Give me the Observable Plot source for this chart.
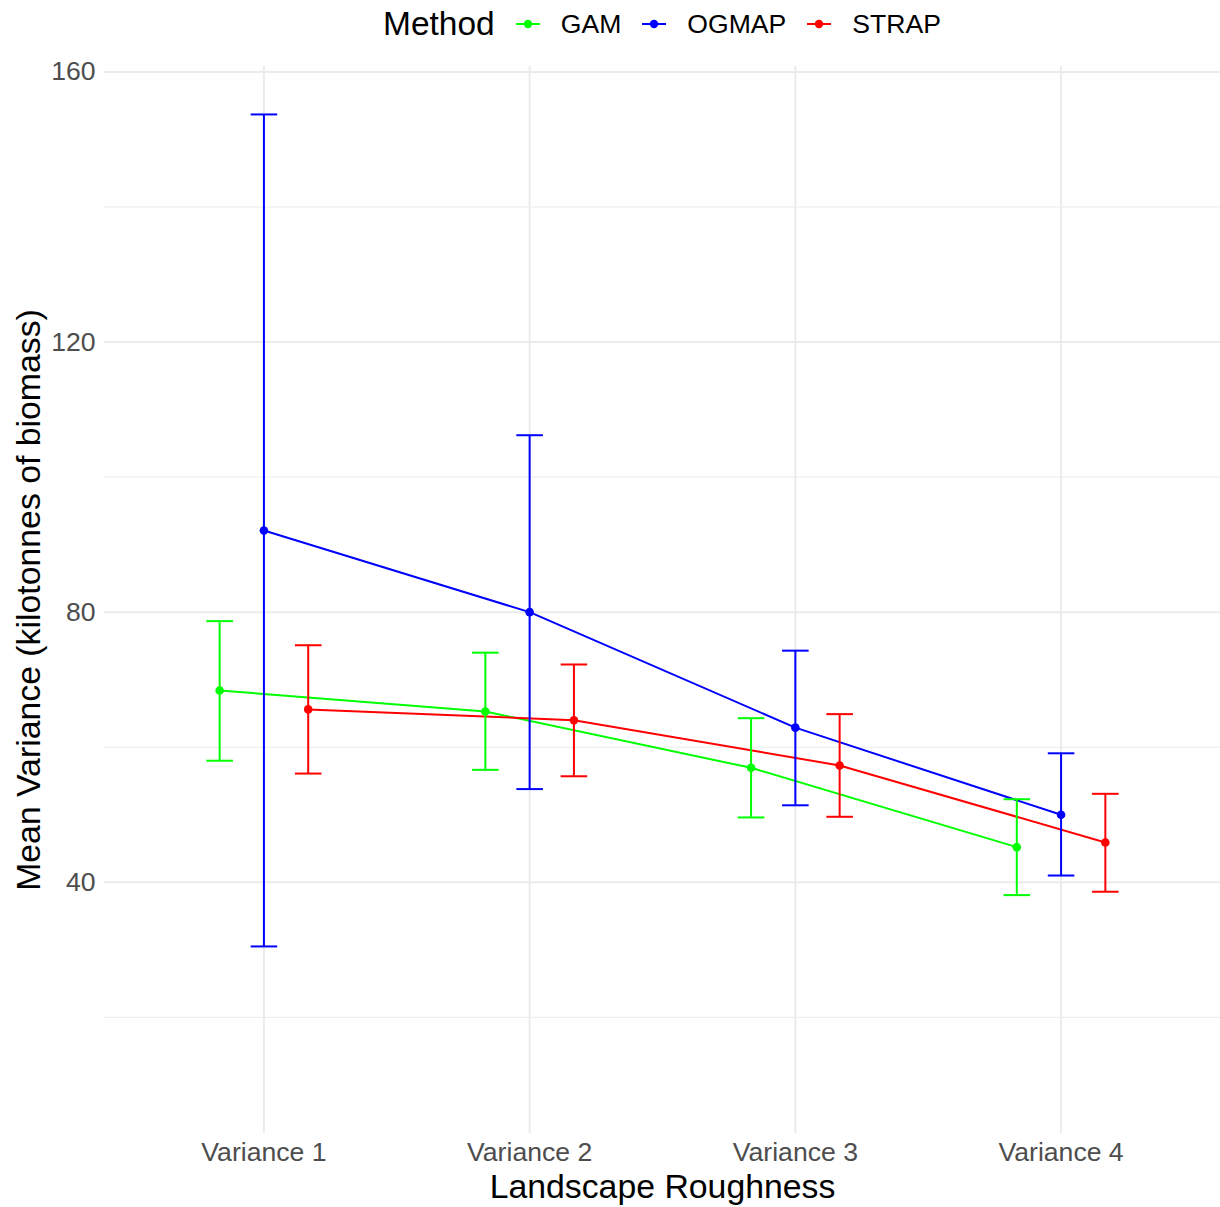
<!DOCTYPE html>
<html>
<head>
<meta charset="utf-8">
<script src="https://cdn.jsdelivr.net/npm/d3@7"></script>
<script src="https://cdn.jsdelivr.net/npm/@observablehq/plot@0.6"></script>
<style>
  html, body { margin: 0; padding: 0; background: #fff; }
  body { width: 1220px; height: 1207px; overflow: hidden; font-family: "Liberation Sans", Arial, sans-serif; }
  #legend { height: 48px; width: 1220px; box-sizing: border-box; padding-left: 104px; display: flex; align-items: center; justify-content: center; }
  #legend .title { font-size: 33.5px; color: #000; margin-right: 21px; }
  #legend .lab { font-size: 26.6px; color: #000; margin-left: 21px; margin-right: 21px; }
  #legend .lab:last-child { margin-right: 0; }
  #legend svg { display: block; }
</style>
</head>
<body>
<div id="legend"></div>
<div id="chart"></div>
<script>
const categories = ["Variance 1", "Variance 2", "Variance 3", "Variance 4"];
const methods = ["GAM", "OGMAP", "STRAP"];
const methodColors = ["#00ff00", "#0000ff", "#ff0000"];

const gamMean  = [68.4, 65.3, 56.95, 45.2];
const gamLower = [58.0, 56.65, 49.6, 38.1];
const gamUpper = [78.67, 74.0, 64.3, 52.3];

const ogmapMean  = [92.1, 80.0, 62.9, 50.0];
const ogmapLower = [30.5, 53.8, 51.4, 41.0];
const ogmapUpper = [153.7, 106.2, 74.3, 59.1];

const strapMean  = [65.6, 64.0, 57.3, 45.9];
const strapLower = [56.1, 55.7, 49.7, 38.6];
const strapUpper = [75.1, 72.25, 64.9, 53.1];

const majorY = [40, 80, 120, 160];
const minorY = [20, 60, 100, 140];

// build table
const seriesMeans = [gamMean, ogmapMean, strapMean];
const seriesLower = [gamLower, ogmapLower, strapLower];
const seriesUpper = [gamUpper, ogmapUpper, strapUpper];
const dodgeWidth = 0.5;
const capWidth = 0.1;
const data = [];
methods.forEach((m, mi) => {
  categories.forEach((c, ci) => {
    const off = (mi - 1) * dodgeWidth / 3;
    data.push({
      method: m,
      cat: c,
      xi: ci + 1 + off,
      mean: seriesMeans[mi][ci],
      lo: seriesLower[mi][ci],
      hi: seriesUpper[mi][ci]
    });
  });
});

// legend
const legend = document.getElementById("legend");
const t = document.createElement("span");
t.className = "title"; t.textContent = "Method";
legend.appendChild(t);
methods.forEach((m, i) => {
  const ns = "http://www.w3.org/2000/svg";
  const s = document.createElementNS(ns, "svg");
  s.setAttribute("width", 24); s.setAttribute("height", 12);
  const l = document.createElementNS(ns, "line");
  l.setAttribute("x1", 0); l.setAttribute("x2", 24); l.setAttribute("y1", 6); l.setAttribute("y2", 6);
  l.setAttribute("stroke", methodColors[i]); l.setAttribute("stroke-width", 2);
  const c = document.createElementNS(ns, "circle");
  c.setAttribute("cx", 12); c.setAttribute("cy", 6); c.setAttribute("r", 4.2);
  c.setAttribute("fill", methodColors[i]);
  s.appendChild(l); s.appendChild(c);
  legend.appendChild(s);
  const lab = document.createElement("span");
  lab.className = "lab"; lab.textContent = m;
  legend.appendChild(lab);
});

const chart = Plot.plot({
  width: 1220,
  height: 1159,
  marginTop: 18,
  marginBottom: 74,
  marginLeft: 104,
  marginRight: 0,
  style: { fontFamily: "'Liberation Sans', Arial, sans-serif", background: "#fff" },
  x: { type: "linear", domain: [0.4, 4.6], axis: null },
  y: { domain: [2.8, 160.8], axis: null },
  color: { domain: methods, range: methodColors },
  marks: [
    Plot.ruleY(minorY, { stroke: "#ebebeb", strokeWidth: 1 }),
    Plot.ruleY(majorY, { stroke: "#ebebeb", strokeWidth: 2 }),
    Plot.ruleX([1, 2, 3, 4], { stroke: "#ebebeb", strokeWidth: 2 }),
    Plot.axisY(majorY, { tickSize: 0, tickPadding: 9, fontSize: 26.6, color: "#4d4d4d", label: null }),
    Plot.axisX([1, 2, 3, 4], { tickSize: 0, tickPadding: 9, fontSize: 26.6, color: "#4d4d4d", label: null, tickFormat: d => categories[d - 1] }),
    Plot.line(data, { x: "xi", y: "mean", z: "method", stroke: "method", strokeWidth: 2 }),
    Plot.ruleX(data, { x: "xi", y1: "lo", y2: "hi", stroke: "method", strokeWidth: 2 }),
    Plot.link(data, { x1: d => d.xi - capWidth / 2, x2: d => d.xi + capWidth / 2, y1: "hi", y2: "hi", stroke: "method", strokeWidth: 2 }),
    Plot.link(data, { x1: d => d.xi - capWidth / 2, x2: d => d.xi + capWidth / 2, y1: "lo", y2: "lo", stroke: "method", strokeWidth: 2 }),
    Plot.dot(data, { x: "xi", y: "mean", fill: "method", r: 4.3 }),
    Plot.text(["Landscape Roughness"], { frameAnchor: "bottom", textAnchor: "middle", lineAnchor: "top", dy: 40, fontSize: 33.8, fill: "#000" }),
    Plot.text(["Mean Variance (kilotonnes of biomass)"], { frameAnchor: "left", textAnchor: "middle", lineAnchor: "middle", rotate: -90, dx: -75, fontSize: 33.8, fill: "#000" })
  ]
});
document.getElementById("chart").appendChild(chart);
</script>
</body>
</html>
